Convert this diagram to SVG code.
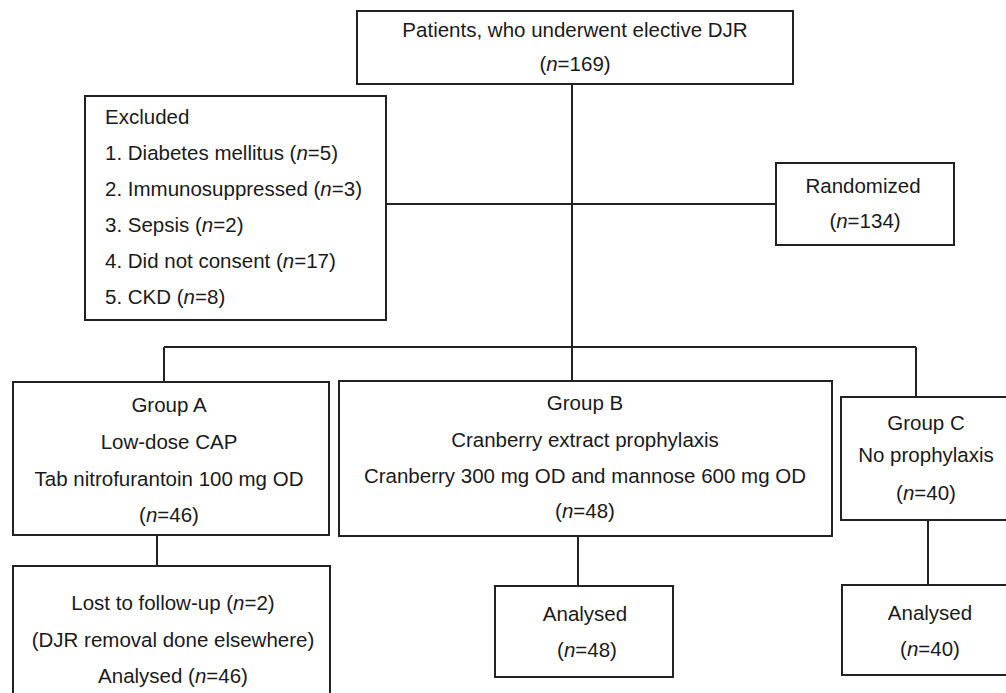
<svg xmlns="http://www.w3.org/2000/svg" width="1006" height="693" viewBox="0 0 1006 693">
<style>
.box{fill:#fff;stroke:#222;stroke-width:2}
.ln{fill:none;stroke:#222;stroke-width:2}
text{font-family:"Liberation Sans",Arial,sans-serif;font-size:20.5px;fill:#1a1a1a}
.c{text-anchor:middle}
.i{font-style:italic}
</style>
<rect width="1006" height="693" fill="#fff"/>
<g id="connectors">
<path class="ln" d="M572 84V381"/>
<path class="ln" d="M386 204H776"/>
<path class="ln" d="M164 347H916"/>
<path class="ln" d="M164 347V382"/>
<path class="ln" d="M916 347V397"/>
<path class="ln" d="M157 535V566"/>
<path class="ln" d="M578 536V586"/>
<path class="ln" d="M928 520V585"/>
</g>
<g id="patients">
<rect class="box" x="357" y="11" width="436" height="73"/>
<text class="c" x="575" y="37">Patients, who underwent elective DJR</text>
<text class="c" x="575" y="71">(<tspan class="i">n</tspan>=169)</text>
</g>
<g id="excluded">
<rect class="box" x="85" y="96" width="301" height="224"/>
<text x="105" y="124">Excluded</text>
<text x="105" y="160">1. Diabetes mellitus (<tspan class="i">n</tspan>=5)</text>
<text x="105" y="196">2. Immunosuppressed (<tspan class="i">n</tspan>=3)</text>
<text x="105" y="232">3. Sepsis (<tspan class="i">n</tspan>=2)</text>
<text x="105" y="268">4. Did not consent (<tspan class="i">n</tspan>=17)</text>
<text x="105" y="304">5. CKD (<tspan class="i">n</tspan>=8)</text>
</g>
<g id="randomized">
<rect class="box" x="776" y="163" width="178" height="82"/>
<text class="c" x="863" y="193">Randomized</text>
<text class="c" x="865" y="228">(<tspan class="i">n</tspan>=134)</text>
</g>
<g id="groupA">
<rect class="box" x="13" y="382" width="316" height="153"/>
<text class="c" x="169" y="412">Group A</text>
<text class="c" x="169" y="449">Low-dose CAP</text>
<text class="c" x="169" y="486">Tab nitrofurantoin 100 mg OD</text>
<text class="c" x="169" y="522">(<tspan class="i">n</tspan>=46)</text>
</g>
<g id="groupB">
<rect class="box" x="339" y="381" width="493" height="155"/>
<text class="c" x="585" y="410">Group B</text>
<text class="c" x="585" y="447">Cranberry extract prophylaxis</text>
<text class="c" x="585" y="483">Cranberry 300 mg OD and mannose 600 mg OD</text>
<text class="c" x="585" y="518">(<tspan class="i">n</tspan>=48)</text>
</g>
<g id="groupC">
<rect class="box" x="841" y="397" width="175" height="123"/>
<text class="c" x="926" y="430">Group C</text>
<text class="c" x="926" y="462">No prophylaxis</text>
<text class="c" x="926" y="500">(<tspan class="i">n</tspan>=40)</text>
</g>
<g id="analysedA">
<rect class="box" x="13" y="566" width="317" height="140"/>
<text class="c" x="173" y="610">Lost to follow-up (<tspan class="i">n</tspan>=2)</text>
<text class="c" x="173" y="647">(DJR removal done elsewhere)</text>
<text class="c" x="173" y="683">Analysed (<tspan class="i">n</tspan>=46)</text>
</g>
<g id="analysedB">
<rect class="box" x="495" y="586" width="178" height="91"/>
<text class="c" x="585" y="621">Analysed</text>
<text class="c" x="587" y="657">(<tspan class="i">n</tspan>=48)</text>
</g>
<g id="analysedC">
<rect class="box" x="842" y="585" width="175" height="90"/>
<text class="c" x="930" y="620">Analysed</text>
<text class="c" x="930" y="656">(<tspan class="i">n</tspan>=40)</text>
</g>
</svg>
